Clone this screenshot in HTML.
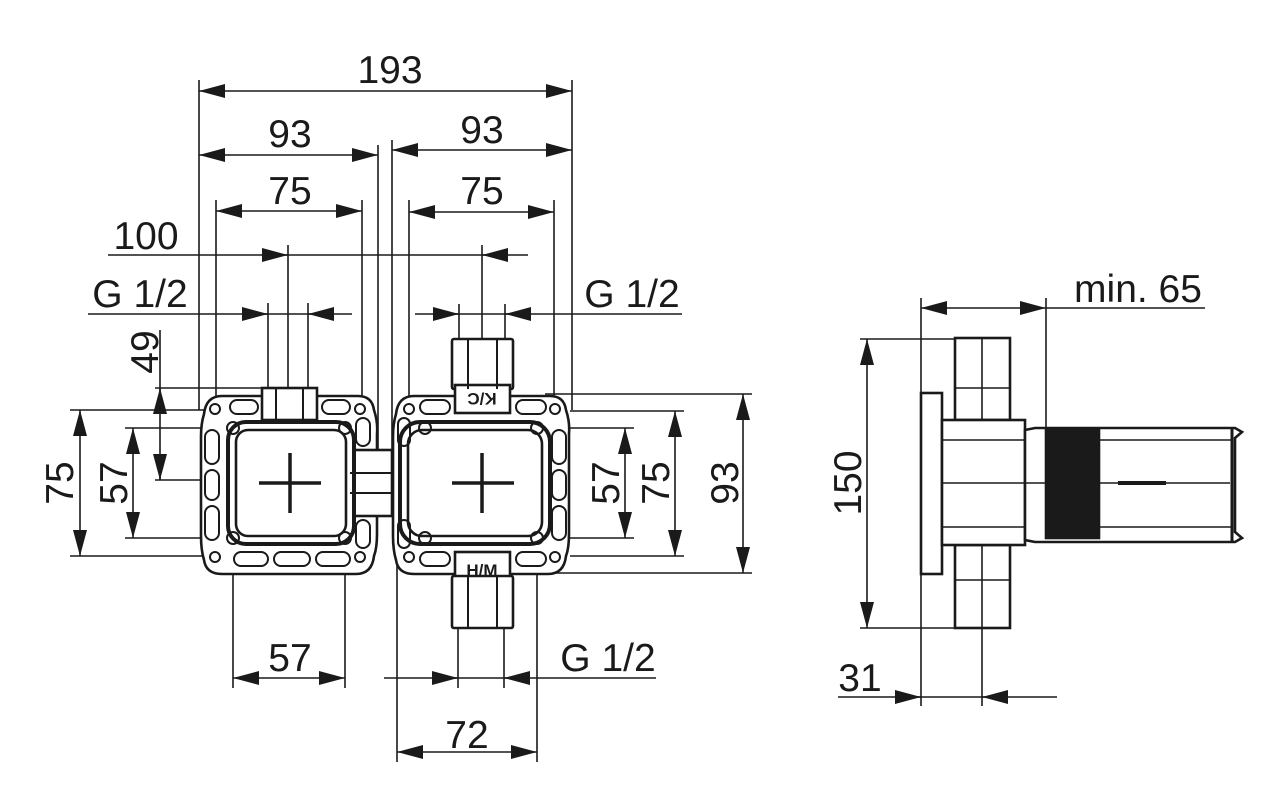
<!DOCTYPE html>
<html><head><meta charset="utf-8"><style>
html,body{margin:0;padding:0;background:#fff}
svg{display:block}
text{font-family:"Liberation Sans",Arial,sans-serif;font-size:39px;fill:#1a1a1a}
</style></head><body>
<svg width="1280" height="812" viewBox="0 0 1280 812" xmlns="http://www.w3.org/2000/svg">
<defs>
<marker id="a" viewBox="0 0 26 14" refX="26" refY="7" markerWidth="26" markerHeight="14" markerUnits="userSpaceOnUse" orient="auto-start-reverse"><path d="M0,0 L26,7 L0,14 Z" fill="#1a1a1a"/></marker>
</defs>
<g stroke="#1a1a1a" stroke-width="1.6" fill="none">
<line x1="199" y1="80" x2="199" y2="410"/>
<line x1="572" y1="80" x2="572" y2="410"/>
<line x1="378" y1="145" x2="378" y2="450"/>
<line x1="392" y1="140" x2="392" y2="450"/>
<line x1="216" y1="200" x2="216" y2="420"/>
<line x1="362" y1="200" x2="362" y2="420"/>
<line x1="409" y1="200" x2="409" y2="420"/>
<line x1="554" y1="200" x2="554" y2="420"/>
<line x1="288" y1="245" x2="288" y2="390"/>
<line x1="482" y1="245" x2="482" y2="340"/>
<line x1="268" y1="303" x2="268" y2="390"/>
<line x1="308" y1="303" x2="308" y2="390"/>
<line x1="459" y1="304" x2="459" y2="340"/>
<line x1="505" y1="304" x2="505" y2="340"/>
<line x1="199" y1="91" x2="572" y2="91" marker-start="url(#a)" marker-end="url(#a)"/>
<line x1="199" y1="155" x2="378" y2="155" marker-start="url(#a)" marker-end="url(#a)"/>
<line x1="392" y1="150" x2="572" y2="150" marker-start="url(#a)" marker-end="url(#a)"/>
<line x1="216" y1="211" x2="362" y2="211" marker-start="url(#a)" marker-end="url(#a)"/>
<line x1="409" y1="212" x2="554" y2="212" marker-start="url(#a)" marker-end="url(#a)"/>
<line x1="108" y1="255" x2="528" y2="255"/>
<line x1="262" y1="255" x2="288" y2="255" marker-end="url(#a)"/>
<line x1="508" y1="255" x2="482" y2="255" marker-end="url(#a)"/>
<line x1="88" y1="314" x2="352" y2="314"/>
<line x1="242" y1="314" x2="268" y2="314" marker-end="url(#a)"/>
<line x1="334" y1="314" x2="308" y2="314" marker-end="url(#a)"/>
<line x1="415" y1="314" x2="682" y2="314"/>
<line x1="433" y1="314" x2="459" y2="314" marker-end="url(#a)"/>
<line x1="531" y1="314" x2="505" y2="314" marker-end="url(#a)"/>
<line x1="155" y1="388" x2="265" y2="388"/>
<line x1="155" y1="480" x2="230" y2="480"/>
<line x1="160" y1="330" x2="160" y2="480"/>
<line x1="160" y1="414" x2="160" y2="388" marker-end="url(#a)"/>
<line x1="160" y1="454" x2="160" y2="480" marker-end="url(#a)"/>
<line x1="70" y1="410" x2="215" y2="410"/>
<line x1="70" y1="556" x2="215" y2="556"/>
<line x1="80" y1="410" x2="80" y2="556" marker-start="url(#a)" marker-end="url(#a)"/>
<line x1="125" y1="428" x2="230" y2="428"/>
<line x1="125" y1="538" x2="230" y2="538"/>
<line x1="133" y1="428" x2="133" y2="538" marker-start="url(#a)" marker-end="url(#a)"/>
<line x1="545" y1="394" x2="752" y2="394"/>
<line x1="540" y1="573" x2="752" y2="573"/>
<line x1="743" y1="394" x2="743" y2="573" marker-start="url(#a)" marker-end="url(#a)"/>
<line x1="570" y1="411" x2="684" y2="411"/>
<line x1="570" y1="556" x2="684" y2="556"/>
<line x1="675" y1="411" x2="675" y2="556" marker-start="url(#a)" marker-end="url(#a)"/>
<line x1="545" y1="428" x2="634" y2="428"/>
<line x1="545" y1="538" x2="634" y2="538"/>
<line x1="625" y1="428" x2="625" y2="538" marker-start="url(#a)" marker-end="url(#a)"/>
<line x1="233" y1="540" x2="233" y2="688"/>
<line x1="345" y1="540" x2="345" y2="688"/>
<line x1="233" y1="678" x2="345" y2="678" marker-start="url(#a)" marker-end="url(#a)"/>
<line x1="397" y1="560" x2="397" y2="762"/>
<line x1="537" y1="560" x2="537" y2="762"/>
<line x1="458" y1="625" x2="458" y2="688"/>
<line x1="504" y1="625" x2="504" y2="688"/>
<line x1="384" y1="678" x2="656" y2="678"/>
<line x1="432" y1="678" x2="458" y2="678" marker-end="url(#a)"/>
<line x1="530" y1="678" x2="504" y2="678" marker-end="url(#a)"/>
<line x1="397" y1="752" x2="537" y2="752" marker-start="url(#a)" marker-end="url(#a)"/>
<line x1="921" y1="298" x2="921" y2="706"/>
<line x1="1046" y1="298" x2="1046" y2="430"/>
<line x1="921" y1="308" x2="1046" y2="308" marker-start="url(#a)" marker-end="url(#a)"/>
<line x1="1046" y1="308" x2="1205" y2="308"/>
<line x1="860" y1="339" x2="985" y2="339"/>
<line x1="860" y1="628" x2="985" y2="628"/>
<line x1="867" y1="339" x2="867" y2="628" marker-start="url(#a)" marker-end="url(#a)"/>
<line x1="982" y1="560" x2="982" y2="706"/>
<line x1="838" y1="697" x2="1057" y2="697"/>
<line x1="895" y1="697" x2="921" y2="697" marker-end="url(#a)"/>
<line x1="1008" y1="697" x2="982" y2="697" marker-end="url(#a)"/>
</g>
<g stroke="#1a1a1a" stroke-width="2.6" fill="#fff">
<path d="M222,396 h136 q14,0 16,14 q4,12 3,24 v100 q0,14 -3,22 q-2,18 -18,18 h-134 q-16,0 -18,-14 q-3,-10 -3,-24 v-100 q0,-12 3,-22 q2,-18 18,-18 z"/>
<path d="M414,396 h136 q14,0 16,14 q4,12 3,24 v100 q0,14 -3,22 q-2,18 -18,18 h-134 q-16,0 -18,-14 q-3,-10 -3,-24 v-100 q0,-12 3,-22 q2,-18 18,-18 z"/>
<rect x="350" y="450" width="42" height="66"/>
<rect x="228" y="422" width="126" height="122" rx="18" stroke-width="4"/>
<rect x="236" y="430" width="110" height="106" rx="12"/>
<rect x="400" y="422" width="150" height="122" rx="20" stroke-width="4"/>
<rect x="408" y="430" width="134" height="106" rx="14"/>
<rect x="262" y="388" width="55" height="32"/>
<rect x="452" y="339" width="61" height="50" rx="2"/>
<rect x="455" y="385" width="55" height="28"/>
<rect x="455" y="552" width="55" height="28"/>
<rect x="452" y="576" width="61" height="52" rx="2"/>
</g>
<g stroke="#1a1a1a" stroke-width="2" fill="none">
<rect x="230" y="400" width="28" height="14" rx="7"/><rect x="322" y="400" width="28" height="14" rx="7"/>
<rect x="234" y="552" width="34" height="14" rx="7"/><rect x="274" y="552" width="36" height="14" rx="7"/><rect x="316" y="552" width="34" height="14" rx="7"/>
<rect x="205" y="430" width="14" height="34" rx="7"/><rect x="205" y="470" width="14" height="30" rx="7"/><rect x="205" y="506" width="14" height="34" rx="7"/>
<rect x="356" y="418" width="14" height="28" rx="7"/><rect x="356" y="520" width="14" height="28" rx="7"/>
<rect x="420" y="400" width="30" height="14" rx="7"/><rect x="516" y="400" width="30" height="14" rx="7"/>
<rect x="420" y="552" width="30" height="14" rx="7"/><rect x="516" y="552" width="30" height="14" rx="7"/>
<rect x="552" y="430" width="14" height="34" rx="7"/><rect x="552" y="470" width="14" height="30" rx="7"/><rect x="552" y="506" width="14" height="34" rx="7"/>
<rect x="398" y="418" width="12" height="28" rx="6"/><rect x="398" y="520" width="12" height="28" rx="6"/>
<circle cx="215" cy="409" r="5"/><circle cx="360" cy="409" r="5"/><circle cx="215" cy="557" r="5"/><circle cx="360" cy="557" r="5"/>
<circle cx="409" cy="409" r="5"/><circle cx="555" cy="409" r="5"/><circle cx="409" cy="557" r="5"/><circle cx="555" cy="557" r="5"/>
<circle cx="233" cy="428" r="6"/><circle cx="345" cy="428" r="6"/><circle cx="233" cy="538" r="6"/><circle cx="345" cy="538" r="6"/>
<circle cx="425" cy="428" r="6"/><circle cx="537" cy="428" r="6"/><circle cx="425" cy="538" r="6"/><circle cx="537" cy="538" r="6"/>
<line x1="350" y1="473" x2="392" y2="473"/><line x1="350" y1="493" x2="392" y2="493"/>
<line x1="276" y1="388" x2="276" y2="420"/><line x1="303" y1="388" x2="303" y2="420"/>
<line x1="468" y1="339" x2="468" y2="389"/><line x1="497" y1="339" x2="497" y2="389"/>
<line x1="468" y1="576" x2="468" y2="628"/><line x1="497" y1="576" x2="497" y2="628"/>
</g>
<g stroke="#1a1a1a" stroke-width="3.5">
<line x1="259" y1="483" x2="321" y2="483"/><line x1="290" y1="453" x2="290" y2="513"/>
<line x1="452" y1="483" x2="514" y2="483"/><line x1="482" y1="453" x2="482" y2="513"/>
</g>
<text x="482" y="405" text-anchor="middle" style="font-size:17px;font-weight:bold" transform="rotate(180 482 399)">K/C</text>
<text x="482" y="576" text-anchor="middle" style="font-size:17px;font-weight:bold">H/M</text>
<g stroke="#1a1a1a" stroke-width="2.6" fill="#fff">
<rect x="955" y="338" width="55" height="82"/>
<rect x="955" y="545" width="55" height="83"/>
<rect x="921" y="393" width="21" height="181"/>
<rect x="942" y="420" width="83" height="125"/>
<path d="M1025,430 L1035,428 H1235 L1242,432 L1235,438 V532 L1242,538 L1235,542 H1035 L1025,540 Z"/>
<rect x="1046" y="430" width="53" height="108" fill="#1a1a1a"/>
</g>
<g stroke="#1a1a1a" stroke-width="1.6" fill="none">
<line x1="982" y1="338" x2="982" y2="420"/><line x1="982" y1="545" x2="982" y2="628"/>
<line x1="955" y1="388" x2="1010" y2="388"/><line x1="955" y1="580" x2="1010" y2="580"/>
<line x1="942" y1="483" x2="1230" y2="483"/>
<line x1="942" y1="440" x2="1025" y2="440"/><line x1="942" y1="527" x2="1025" y2="527"/>
<line x1="1099" y1="440" x2="1232" y2="440"/><line x1="1099" y1="527" x2="1232" y2="527"/>
<line x1="1232" y1="428" x2="1232" y2="542" stroke-width="3"/>
</g>
<line x1="1118" y1="483" x2="1166" y2="483" stroke="#1a1a1a" stroke-width="4"/>
<text x="390" y="83" text-anchor="middle">193</text>
<text x="290" y="147" text-anchor="middle">93</text>
<text x="482" y="143" text-anchor="middle">93</text>
<text x="290" y="204" text-anchor="middle">75</text>
<text x="482" y="204" text-anchor="middle">75</text>
<text x="146" y="249" text-anchor="middle">100</text>
<text x="140" y="307" text-anchor="middle">G 1/2</text>
<text x="632" y="307" text-anchor="middle">G 1/2</text>
<text x="290" y="671" text-anchor="middle">57</text>
<text x="608" y="671" text-anchor="middle">G 1/2</text>
<text x="467" y="748" text-anchor="middle">72</text>
<text x="1138" y="302" text-anchor="middle">min. 65</text>
<text x="860" y="691" text-anchor="middle">31</text>
<text transform="translate(158,352) rotate(-90)" text-anchor="middle">49</text>
<text transform="translate(73,483) rotate(-90)" text-anchor="middle">75</text>
<text transform="translate(127,483) rotate(-90)" text-anchor="middle">57</text>
<text transform="translate(619,483) rotate(-90)" text-anchor="middle">57</text>
<text transform="translate(669,483) rotate(-90)" text-anchor="middle">75</text>
<text transform="translate(738,483) rotate(-90)" text-anchor="middle">93</text>
<text transform="translate(861,483) rotate(-90)" text-anchor="middle">150</text>
</svg>
</body></html>
